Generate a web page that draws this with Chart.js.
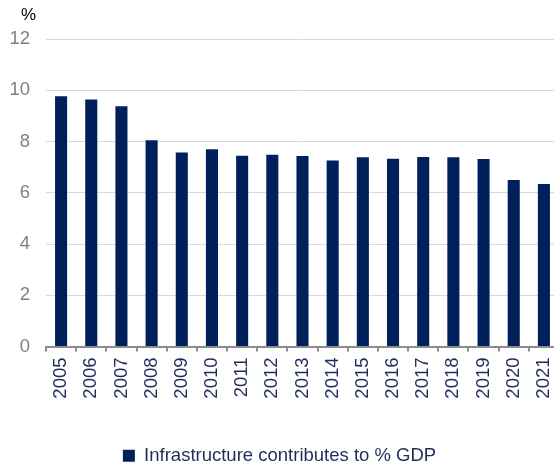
<!DOCTYPE html>
<html>
<head>
<meta charset="utf-8">
<script src="https://cdn.jsdelivr.net/npm/chart.js@4"></script>
<style>
  html, body { margin: 0; padding: 0; background: #fff; overflow: hidden; }
  #wrap { position: relative; width: 554px; height: 466px; overflow: hidden; }
  #myChart { display: block; }
  #unit { position: absolute; left: 21px; top: 5px; font: 17px "Liberation Sans", Arial, sans-serif; color: #000; }
</style>
</head>
<body>
<div id="wrap">
  <canvas id="myChart" width="560" height="475"></canvas>
  <div id="unit">%</div>
</div>
<script>
// Infrastructure share of GDP, by year
const years = ['2005', '2006', '2007', '2008', '2009', '2010', '2011', '2012', '2013',
               '2014', '2015', '2016', '2017', '2018', '2019', '2020', '2021'];
const infraShare = [9.77, 9.64, 9.38, 8.05, 7.57, 7.70, 7.44, 7.48, 7.43,
                    7.26, 7.39, 7.33, 7.40, 7.39, 7.32, 6.50, 6.34];
const yTicks = [0, 2, 4, 6, 8, 10, 12];
const seriesName = 'Infrastructure contributes to % GDP';

const navy = '#00205b';
const fontFamily = '"Liberation Sans", Arial, sans-serif';

const ctx = document.getElementById('myChart').getContext('2d');
const chart = new Chart(ctx, {
    type: 'bar',
    data: {
        labels: years,
        datasets: [{
            label: seriesName,
            data: infraShare,
            backgroundColor: navy,
            borderWidth: 0,
            categoryPercentage: 1,
            barPercentage: 0.4
        }]
    },
    options: {
        responsive: false,
        animation: false,
        layout: { padding: { top: 39, right: 1, left: 0, bottom: 0 } },
        plugins: {
            legend: {
                position: 'bottom',
                labels: {
                    color: '#1f2d5a',
                    font: { family: fontFamily, size: 18.5 },
                    boxWidth: 12,
                    boxHeight: 12,
                    padding: 2
                }
            },
            tooltip: { enabled: false }
        },
        scales: {
            x: {
                afterFit: (scale) => {
                    // keep the plot running right up to the edge
                    scale.height = 98;
                    scale.paddingLeft = 0;
                    scale.paddingRight = 0;
                },
                grid: {
                    drawOnChartArea: false,
                    drawTicks: true,
                    tickLength: 5,
                    color: '#8c8c8c',
                    lineWidth: 2
                },
                border: { color: '#8c8c8c', width: 2 },
                ticks: {
                    color: '#1f2d5a',
                    font: { family: fontFamily, size: 18.5 },
                    minRotation: 90,
                    maxRotation: 90,
                    padding: 6
                }
            },
            y: {
                min: 0,
                max: 12,
                afterFit: (scale) => { scale.width = 46; },
                afterBuildTicks: (scale) => {
                    scale.ticks = yTicks.map(v => ({ value: v }));
                },
                grid: {
                    color: '#d9d9d9',
                    lineWidth: 1,
                    drawTicks: false
                },
                border: { display: false },
                ticks: {
                    color: '#808080',
                    font: { family: fontFamily, size: 18.5 },
                    padding: 16
                }
            }
        }
    }
});
</script>
</body>
</html>
